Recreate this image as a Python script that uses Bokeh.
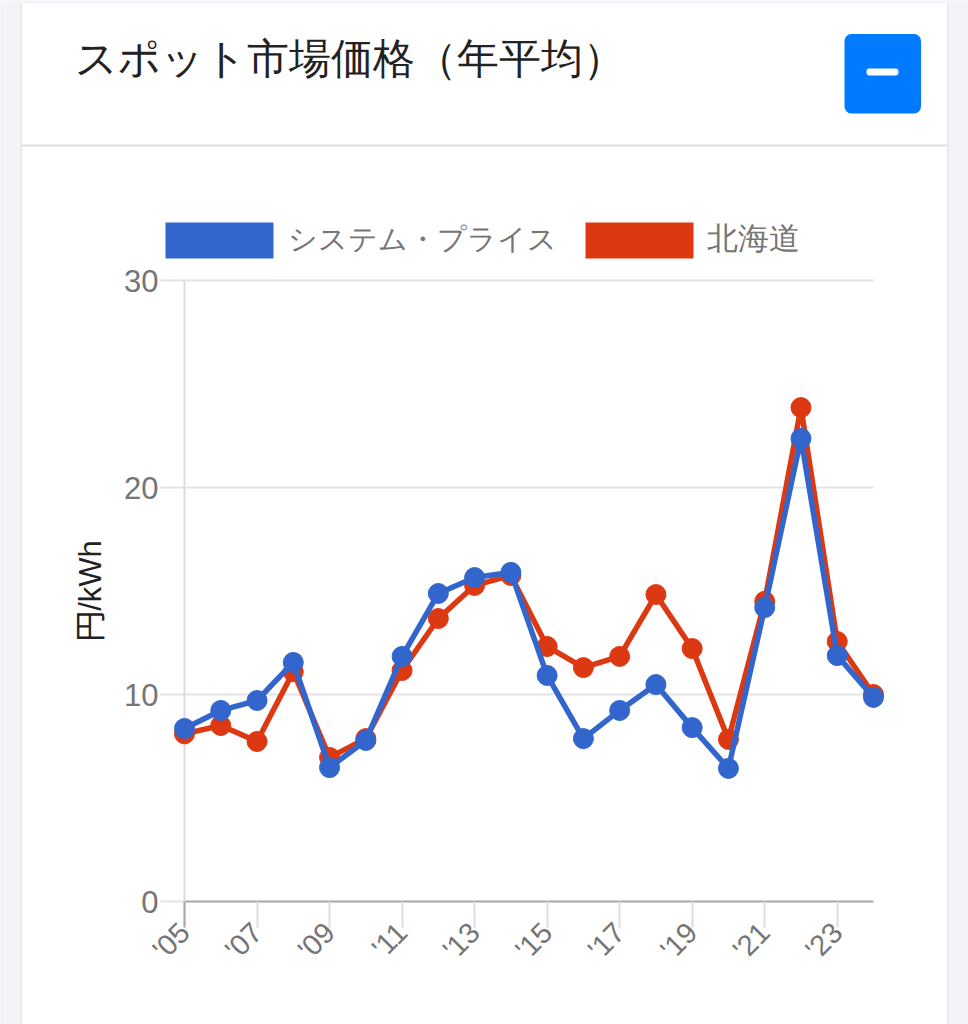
from bokeh.embed import file_html
from bokeh.models import ColumnDataSource, FixedTicker, Range1d
from bokeh.plotting import figure
from bokeh.resources import INLINE
import math

years = list(range(2005, 2025))
system_price = [8.36, 9.23, 9.71, 11.55, 6.47, 7.78, 11.84, 14.88, 15.65, 15.9,
                10.92, 7.87, 9.23, 10.48, 8.4, 6.43, 14.2, 22.37, 11.88, 9.86]
hokkaido = [8.1, 8.5, 7.73, 11.1, 6.96, 7.87, 11.16, 13.67, 15.27, 15.75,
            12.32, 11.3, 11.84, 14.83, 12.22, 7.83, 14.5, 23.86, 12.56, 10.0]
x_ticks = list(range(2005, 2024, 2))
x_labels = {y: "'%02d" % (y % 100) for y in x_ticks}
y_ticks = [0, 10, 20, 30]
title_text = "スポット市場価格（年平均）"
y_title = "円/kWh"
series_names = ["システム・プライス", "北海道"]
BLUE, RED = "#3366cc", "#dc3912"
CJK = "'Liberation Sans', 'Noto Sans CJK JP'"
GRID = "#e3e3e8"

# plot frame on the page
F_L, F_R, F_T, F_B = 184, 873, 280, 901

p = figure(width=968, height=1024, output_backend="svg", toolbar_location=None,
           x_range=Range1d(2005, 2024), y_range=Range1d(0, 30),
           min_border_left=F_L, min_border_right=968 - F_R,
           min_border_top=F_T, min_border_bottom=1024 - F_B,
           border_fill_color="white", background_fill_color="white",
           outline_line_color=None)

def dx(px):
    return 2005 + (px - F_L) * 19 / (F_R - F_L)

def dy(py):
    return (F_B - py) * 30 / (F_B - F_T)

# page furniture, unclipped at overlay level
def box(l, r, t, b, color, radius=0):
    p.quad(left=[dx(l)], right=[dx(r)], top=[dy(t)], bottom=[dy(b)],
           fill_color=color, line_color=None, border_radius=radius, level="overlay")

def note(px, py, s, size, color):
    p.text(x=[dx(px)], y=[dy(py)], text=[s], text_font=CJK, text_font_size=size,
           text_color=color, text_baseline="middle", text_align="left", level="overlay")

box(0, 20.5, 0, 1024, "#f3f4f9")
box(947.5, 968, 0, 1024, "#f3f4f9")
box(0, 968, 0, 3, "#f3f4f9")
box(20, 21.5, 3, 1024, "#e6e7ec")
box(946.5, 948, 3, 1024, "#e6e7ec")
box(21, 947, 144, 146, "#dfe0e6")
box(844, 920.5, 33.5, 113, "#007bff", 7)
box(866, 898, 68, 75, "white", 3)
note(74, 58, title_text, "42.4px", "#222222")

# legend
box(165, 273, 222, 258, BLUE)
note(287, 238, series_names[0], "29.3px", "#757575")
box(585, 693, 222, 258, RED)
note(706, 238, series_names[1], "31px", "#757575")

# axes
p.xgrid.visible = False
p.ygrid.grid_line_color = GRID
p.ygrid.grid_line_width = 2
p.ygrid.ticker = FixedTicker(ticks=y_ticks)
# the top grid line sits on the frame edge, where the grid is clipped
p.line([years[0], years[-1]], [y_ticks[-1], y_ticks[-1]], line_color=GRID, line_width=2,
       level="overlay")

xa, ya = p.xaxis[0], p.yaxis[0]
xa.ticker = FixedTicker(ticks=x_ticks)
xa.major_label_overrides = x_labels
xa.major_label_orientation = math.pi / 4
xa.major_label_text_font = CJK
xa.major_label_text_font_size = "29px"
xa.major_label_text_color = "#757575"
xa.major_label_standoff = 0
xa.major_tick_out = 26
xa.major_tick_in = 0
xa.major_tick_line_color = "#dedede"
xa.major_tick_line_width = 2
xa.minor_tick_line_color = None
xa.axis_line_color = "#a8a8a8"
xa.axis_line_width = 2

ya.ticker = FixedTicker(ticks=y_ticks)
ya.major_label_text_font = CJK
ya.major_label_text_font_size = "31px"
ya.major_label_text_color = "#757575"
ya.major_label_standoff = 2
ya.major_tick_out = 24
ya.major_tick_in = 0
ya.major_tick_line_color = GRID
ya.major_tick_line_width = 2
ya.minor_tick_line_color = None
ya.axis_line_color = "#dcdcdc"
ya.axis_line_width = 2
ya.axis_label = y_title
ya.axis_label_text_font = CJK
ya.axis_label_text_font_size = "31px"
ya.axis_label_text_font_style = "normal"
ya.axis_label_text_color = "#222222"
ya.axis_label_standoff = 13

box(183, 185, 901, 927, "#a8a8a8")

# series: overlay level so the end markers are not cut at the frame edge
red_src = ColumnDataSource(dict(x=years, y=hokkaido))
blue_src = ColumnDataSource(dict(x=years, y=system_price))
p.line("x", "y", source=red_src, line_color=RED, line_width=5.5, level="overlay")
p.scatter("x", "y", source=red_src, size=20, fill_color=RED, line_color=RED, level="overlay")
p.line("x", "y", source=blue_src, line_color=BLUE, line_width=5.5, level="overlay")
p.scatter("x", "y", source=blue_src, size=20, fill_color=BLUE, line_color=BLUE, level="overlay")

open("out.html", "w").write(file_html(p, INLINE))
